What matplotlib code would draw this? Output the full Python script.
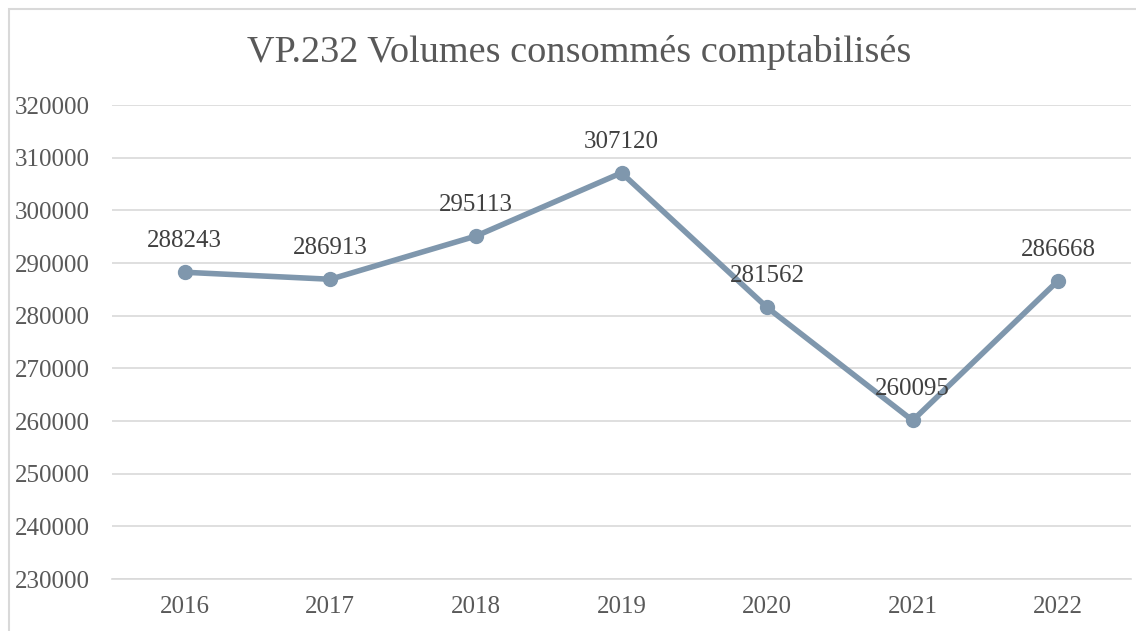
import matplotlib.pyplot as plt
from matplotlib.patches import Rectangle

# données
annees = ["2016", "2017", "2018", "2019", "2020", "2021", "2022"]
volumes = [288243, 286913, 295113, 307120, 281562, 260095, 286668]
graduations = [230000, 240000, 250000, 260000, 270000, 280000, 290000, 300000, 310000, 320000]

plt.rcParams['font.family'] = ['Liberation Serif', 'DejaVu Serif']

fig = plt.figure(figsize=(11.36, 6.31), dpi=100)
ax = fig.add_axes([112/1136, 52/631, (1131-112)/1136, (579-105)/631])

# cadre du graphique (coupé à droite et en bas)
fig.add_artist(Rectangle((9/1136, -0.1), 1.2, (622/631) + 0.1, transform=fig.transFigure,
                         fill=False, ec='#d9d9d9', lw=1.5))

x = list(range(len(annees)))
ax.plot(x, volumes, color='#7f97ad', lw=4, marker='o', ms=10, solid_capstyle='round', zorder=3)
for xi, v in zip(x, volumes):
    ax.annotate(str(v), (xi, v), xytext=(0, 31), textcoords='offset pixels',
                ha='center', va='center', fontsize=18, color='#404040', zorder=4)

ax.set_xlim(-0.5, len(annees) - 0.5)
ax.set_ylim(230000, 320000)
ax.set_yticks(graduations)
ax.set_yticklabels([str(g) for g in graduations])
ax.set_xticks(x)
ax.set_xticklabels(annees)
ax.grid(axis='y', color='#d9d9d9', lw=1.2)
ax.set_axisbelow(True)
for s in ['top', 'right', 'left']:
    ax.spines[s].set_visible(False)
ax.spines['bottom'].set_color('#d9d9d9')
ax.spines['bottom'].set_linewidth(1.2)
ax.tick_params(length=0, labelsize=18, labelcolor='#595959')
ax.tick_params(axis='y', pad=16)
ax.tick_params(axis='x', pad=12)

fig.text(579/1136, 1 - 53/631, "VP.232 Volumes consommés comptabilisés", ha='center', va='center',
         fontsize=27.5, color='#595959')

fig.savefig('out.png', dpi=100)
